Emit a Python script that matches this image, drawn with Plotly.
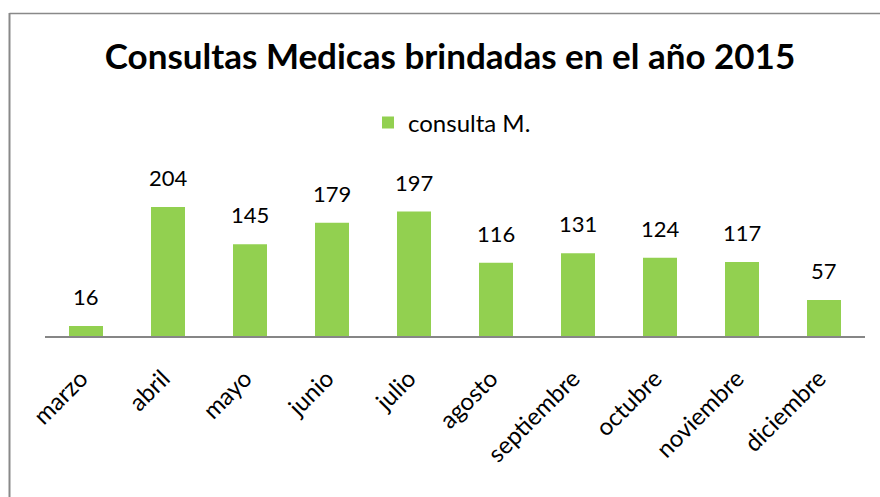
import plotly.graph_objects as go

meses = ["marzo", "abril", "mayo", "junio", "julio", "agosto",
         "septiembre", "octubre", "noviembre", "diciembre"]
consultas = [16, 204, 145, 179, 197, 116, 131, 124, 117, 57]
serie = "consulta M."
titulo = "Consultas Medicas brindadas en el año 2015"

W, H = 880, 497
ML, MR, MT, MB = 45, 15, 150, 161
pw = W - ML - MR
ph = H - MT - MB

FONT = "Lato, Carlito, Calibri, sans-serif"

fig = go.Figure()
fig.add_trace(go.Bar(
    x=meses, y=consultas, name=serie,
    marker=dict(color="#92D050", line=dict(width=0)),
    width=34 / 82,
))

for m, v in zip(meses, consultas):
    fig.add_annotation(x=m, y=v, text=str(v), showarrow=False,
                       yanchor="bottom", yshift=14,
                       font=dict(family=FONT, size=22, color="#000000"))

def px_x(p):
    return (p - ML) / pw

def px_y(p):
    return 1 - (p - MT) / ph

fig.update_layout(
    width=W, height=H,
    margin=dict(l=ML, r=MR, t=MT, b=MB, pad=0),
    paper_bgcolor="white", plot_bgcolor="white",
    title=dict(text="<b>" + titulo + "</b>", xref="container", x=450 / W,
               xanchor="center", y=1 - 57 / H, yanchor="middle",
               font=dict(family=FONT, size=35, color="#000000")),
    showlegend=True,
    legend=dict(orientation="h", x=px_x(452), xanchor="center",
                y=px_y(123), yanchor="middle",
                font=dict(family=FONT, size=24, color="#000000"),
                itemwidth=30, bgcolor="rgba(0,0,0,0)"),
    bargap=0.585,
    xaxis=dict(showline=True, linecolor="#868686", linewidth=2,
               ticks="", tickangle=-45, automargin=False,
               tickfont=dict(family=FONT, size=24, color="#000000"),
               ticklabelstandoff=17, ticklabelshift=-5,
               showgrid=False, zeroline=False, fixedrange=True),
    yaxis=dict(range=[0, ph / 0.632], visible=False, showgrid=False,
               zeroline=False, fixedrange=True, automargin=False),
    shapes=[
        dict(type="line", xref="paper", yref="paper",
             x0=px_x(9.5), x1=px_x(9.5), y0=px_y(13), y1=px_y(H + 5),
             line=dict(color="#898989", width=2)),
        dict(type="line", xref="paper", yref="paper",
             x0=px_x(9.5), x1=px_x(W + 5), y0=px_y(13.5), y1=px_y(13.5),
             line=dict(color="#898989", width=1.5)),
    ],
)

fig.write_html("out.html", config={"displayModeBar": False},
               post_script="document.body.style.margin='0';document.body.style.overflow='hidden';")
